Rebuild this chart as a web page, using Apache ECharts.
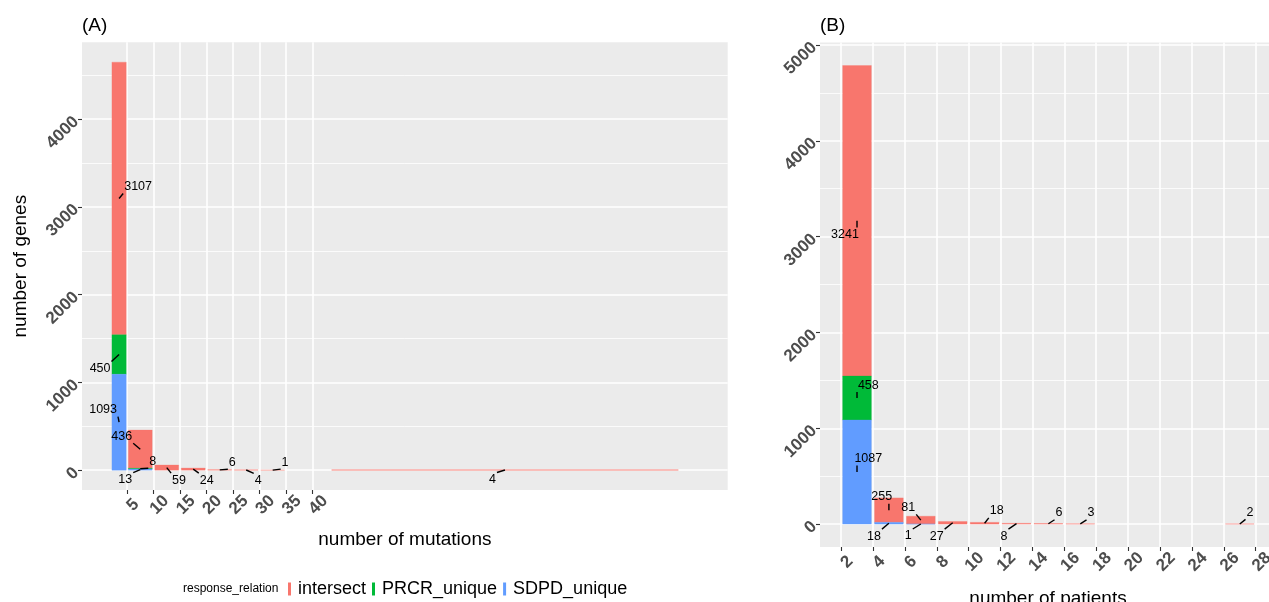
<!DOCTYPE html>
<html><head><meta charset="utf-8">
<script src="https://cdn.jsdelivr.net/npm/echarts@6/dist/echarts.min.js"></script>
<style>html,body{margin:0;padding:0;background:#fff;}#c{width:1269px;height:602px;}</style>
</head><body><div id="c"></div>
<script>
// ---------------- data ----------------
const seriesNames = ['intersect', 'PRCR_unique', 'SDPD_unique'];

// Panel A: number of mutations (bins)
const binLoA = [2, 5, 10, 15, 20, 25, 30, 40];
const binHiA = [5, 10, 15, 20, 25, 30, 35, 112.7];
const intersectA = [3107, 436, 59, 24, 6, 4, 1, 4];
const prcrA = [450, 8, 0, 0, 0, 0, 0, 0];
const sdpdA = [1093, 13, 0, 0, 0, 0, 0, 0];
const xTicksA = [5, 10, 15, 20, 25, 30, 35, 40];
const yTicksA = [0, 1000, 2000, 3000, 4000];
const yMinorA = [500, 1500, 2500, 3500, 4500];

// Panel B: number of patients (bins)
const binLoB = [2, 4, 6, 8, 10, 12, 14, 16, 26];
const binHiB = [4, 6, 8, 10, 12, 14, 16, 18, 28];
const intersectB = [3241, 255, 81, 27, 18, 8, 6, 3, 2];
const prcrB = [458, 0, 0, 0, 0, 0, 0, 0, 0];
const sdpdB = [1087, 18, 1, 0, 0, 0, 0, 0, 0];
const xTicksB = [2, 4, 6, 8, 10, 12, 14, 16, 18, 20, 22, 24, 26, 28];
const yTicksB = [0, 1000, 2000, 3000, 4000, 5000];
const yMinorB = [500, 1500, 2500, 3500, 4500];

// ---------------- style ----------------
const COLORS = {intersect: '#F8766D', PRCR_unique: '#00BA38', SDPD_unique: '#619CFF'};
const BAR_FRAC = 0.9;
const FONT = '"Liberation Sans", Arial, sans-serif';
const LABEL_FS = 12.5;
// repel label offsets (px) per series per bin
const labelOffA = {
  intersect: [[19, -12], [-18.5, -13], [12.3, 12.6], [13.5, 11], [12.6, -7.7], [12, 10.3], [12.4, -8], [-12.5, 9.5]],
  PRCR_unique: [[-19, 14], [12.5, -7.5]],
  SDPD_unique: [[-16, -12.7], [-15, 10]]
};
const labelOffB = {
  intersect: [[-12, 13.6], [-7.2, -13.4], [-12.5, -12.7], [-16, 13.3], [12.1, -12.4], [-12.5, 12.4], [10.6, -11], [10.7, -11], [10.2, -11.6]],
  PRCR_unique: [[11.3, -12.9]],
  SDPD_unique: [[11.3, -13.6], [-14.9, 12.9], [-12.5, 12]]
};

function stackPanel(lo, hi, inter, prcr, sdpd) {
  const out = {intersect: [], PRCR_unique: [], SDPD_unique: []};
  for (let i = 0; i < lo.length; i++) {
    const t0 = sdpd[i];
    const t1 = t0 + prcr[i];
    const t2 = t1 + inter[i];
    out.SDPD_unique.push([lo[i], hi[i], 0, t0]);
    out.PRCR_unique.push([lo[i], hi[i], t0, t1]);
    out.intersect.push([lo[i], hi[i], t1, t2]);
  }
  return out;
}
function labelData(lo, hi, inter, prcr, sdpd, offs) {
  const res = [];
  for (let i = 0; i < lo.length; i++) {
    const c = (lo[i] + hi[i]) / 2;
    const segs = [
      ['SDPD_unique', 0, sdpd[i]],
      ['PRCR_unique', sdpd[i], prcr[i]],
      ['intersect', sdpd[i] + prcr[i], inter[i]]
    ];
    segs.forEach(([name, base, v]) => {
      if (v > 0) {
        const o = offs[name][i] || [10, -10];
        res.push([c, base + v / 2, v, o[0], o[1]]);
      }
    });
  }
  return res;
}

function barRender(color) {
  return function (params, api) {
    const lo = api.value(0), hi = api.value(1), b = api.value(2), t = api.value(3);
    if (!(t > b)) return null;
    const pad = (hi - lo) * (1 - BAR_FRAC) / 2;
    const p0 = api.coord([lo + pad, t]);
    const p1 = api.coord([hi - pad, b]);
    return {type: 'rect', shape: {x: p0[0], y: p0[1], width: p1[0] - p0[0], height: p1[1] - p0[1]},
      style: {fill: color, stroke: color, lineWidth: 0.3}};
  };
}
function labelRender(params, api) {
  const p = api.coord([api.value(0), api.value(1)]);
  const cx = p[0] + api.value(3), cy = p[1] + api.value(4);
  const txt = String(api.value(2));
  const hw = txt.length * 0.556 * LABEL_FS / 2 + 1, hh = 7;
  const ex = Math.min(Math.max(p[0], cx - hw), cx + hw);
  const ey = Math.min(Math.max(p[1], cy - hh), cy + hh);
  const children = [];
  if (Math.hypot(ex - p[0], ey - p[1]) > 2) {
    children.push({type: 'line', shape: {x1: p[0], y1: p[1], x2: ex, y2: ey},
      style: {stroke: '#000', lineWidth: 1.4}});
  }
  children.push({type: 'text', x: cx, y: cy,
    style: {text: txt, fill: '#000', font: LABEL_FS + 'px ' + FONT, align: 'center', verticalAlign: 'middle'}});
  return {type: 'group', children: children};
}

const dataA = stackPanel(binLoA, binHiA, intersectA, prcrA, sdpdA);
const dataB = stackPanel(binLoB, binHiB, intersectB, prcrB, sdpdB);

const tickLabelStyle = {color: '#4D4D4D', fontWeight: 'bold', fontSize: 17, fontFamily: FONT, formatter: v => String(v)};
const tickStyle = {show: true, length: 4, lineStyle: {color: '#333333', width: 1.1}};
const majorSplit = {show: true, lineStyle: {color: '#FFFFFF', width: 1.6}};
const minorSplit = {show: true, lineStyle: {color: '#FFFFFF', width: 0.8}};
const nameStyle = {color: '#000', fontSize: 19, fontFamily: FONT};

function xAxisCfg(grid, min, max, ticks, name, gap) {
  return {gridIndex: grid, type: 'value', min: min, max: max, position: 'bottom',
    axisLine: {show: false, onZero: false},
    axisTick: Object.assign({customValues: ticks}, tickStyle),
    axisLabel: Object.assign({customValues: ticks, rotate: 45, align: 'center', verticalAlign: 'top', margin: 9}, tickLabelStyle),
    splitLine: majorSplit,
    name: name, nameLocation: 'middle', nameGap: gap, nameTextStyle: nameStyle};
}
function yAxisCfg(grid, min, max, ticks, name) {
  return {gridIndex: grid, type: 'value', min: min, max: max, position: 'left',
    axisLine: {show: false, onZero: false},
    axisTick: Object.assign({customValues: ticks}, tickStyle),
    axisLabel: Object.assign({customValues: ticks, rotate: 45, align: 'right', verticalAlign: 'middle', margin: 6}, tickLabelStyle),
    splitLine: majorSplit,
    name: name, nameLocation: 'middle', nameGap: 52, nameTextStyle: nameStyle};
}
function yMinorCfg(grid, min, max, ticks) {
  return {gridIndex: grid, type: 'value', min: min, max: max, position: 'left',
    axisLine: {show: false, onZero: false}, axisTick: {show: false, customValues: ticks},
    axisLabel: {show: false, customValues: ticks}, splitLine: minorSplit};
}

const series = [];
seriesNames.forEach(n => {
  series.push({name: n, type: 'custom', xAxisIndex: 0, yAxisIndex: 0, renderItem: barRender(COLORS[n]),
    encode: {x: [0, 1], y: [2, 3]}, data: dataA[n], itemStyle: {color: COLORS[n]}, z: 3});
  series.push({name: n, type: 'custom', xAxisIndex: 1, yAxisIndex: 2, renderItem: barRender(COLORS[n]),
    encode: {x: [0, 1], y: [2, 3]}, data: dataB[n], itemStyle: {color: COLORS[n]}, z: 3});
});
series.push({name: 'labelsA', type: 'custom', xAxisIndex: 0, yAxisIndex: 0, renderItem: labelRender,
  encode: {x: 0, y: 1}, data: labelData(binLoA, binHiA, intersectA, prcrA, sdpdA, labelOffA), z: 5, clip: false});
series.push({name: 'labelsB', type: 'custom', xAxisIndex: 1, yAxisIndex: 2, renderItem: labelRender,
  encode: {x: 0, y: 1}, data: labelData(binLoB, binHiB, intersectB, prcrB, sdpdB, labelOffB), z: 5, clip: false});

const chart = echarts.init(document.getElementById('c'), null, {renderer: 'canvas'});
chart.setOption({
  animation: false,
  backgroundColor: '#FFFFFF',
  title: [
    {text: '(A)', left: 77, top: 11, textStyle: {fontSize: 19, fontWeight: 'normal', fontFamily: FONT, color: '#000', lineHeight: 20}},
    {text: '(B)', left: 815, top: 11, textStyle: {fontSize: 19, fontWeight: 'normal', fontFamily: FONT, color: '#000', lineHeight: 20}},
    {text: 'response_relation', left: 178, top: 577, textStyle: {fontSize: 12, fontWeight: 'normal', fontFamily: FONT, color: '#000', lineHeight: 13}}
  ],
  legend: {data: seriesNames, left: 288, top: 579, padding: 0, icon: 'rect', itemWidth: 3, itemHeight: 13, itemGap: 6,
    selectedMode: false, textStyle: {fontSize: 18, fontFamily: FONT, color: '#000', lineHeight: 20, padding: [0, 0, 0, 2]}},
  grid: [
    {left: 82, top: 42.3, width: 645.7, height: 447.7, show: true, backgroundColor: '#EBEBEB', borderWidth: 0,
      outerBoundsMode: 'none', containLabel: false},
    {left: 820, top: 42.6, width: 456, height: 504.4, show: true, backgroundColor: '#EBEBEB', borderWidth: 0,
      outerBoundsMode: 'none', containLabel: false}
  ],
  xAxis: [
    xAxisCfg(0, -3.5, 118.4, xTicksA, 'number of mutations', 40),
    xAxisCfg(1, 0.68, 29.27, xTicksB, 'number of patients', 42)
  ],
  yAxis: [
    yAxisCfg(0, -226, 4876, yTicksA, 'number of genes'),
    yMinorCfg(0, -226, 4876, yMinorA),
    yAxisCfg(1, -239.3, 5025.3, yTicksB, ''),
    yMinorCfg(1, -239.3, 5025.3, yMinorB)
  ],
  series: series
});
</script></body></html>
